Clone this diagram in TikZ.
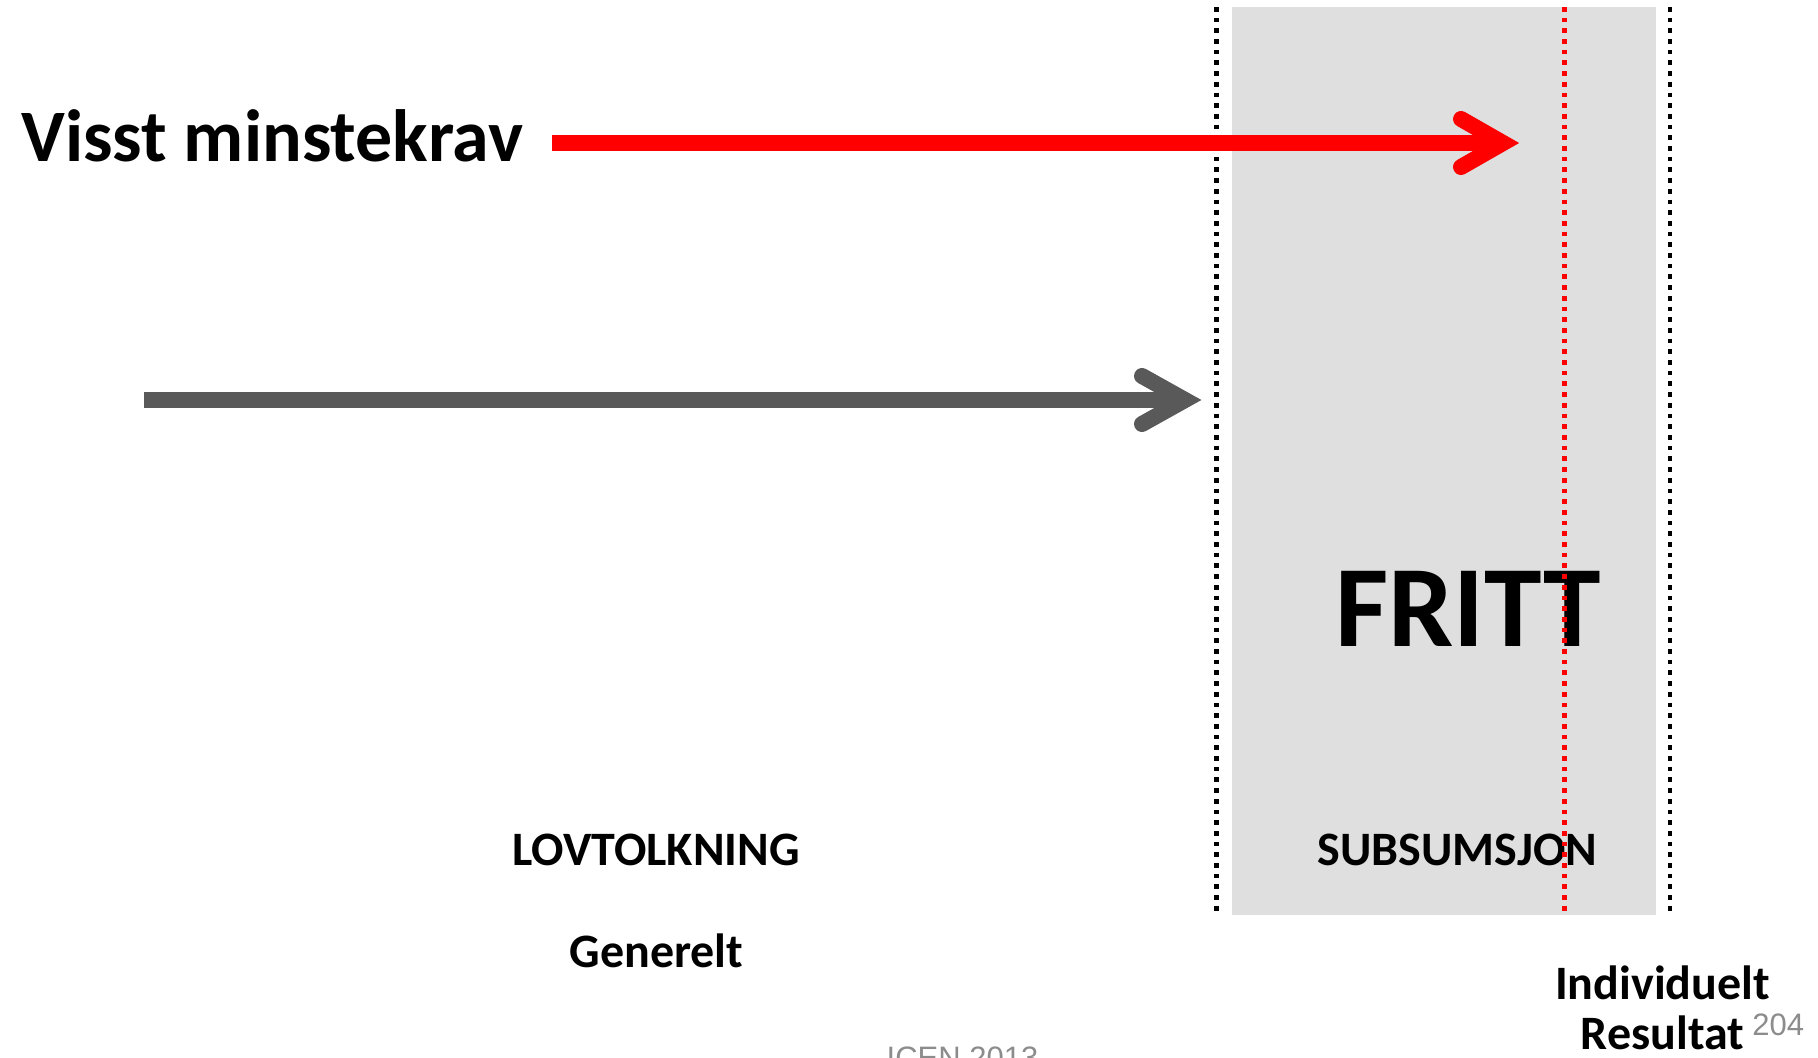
\documentclass[tikz,border=0pt]{standalone}
\usepackage{fontspec}
\setmainfont{Carlito}
\newfontfamily\arialfont{Liberation Sans}
\usetikzlibrary{calc}
\definecolor{boxgrey}{HTML}{DFDFDF}
\definecolor{arrowgrey}{HTML}{595959}
\definecolor{footgrey}{HTML}{8C8C8C}
\begin{document}
\begin{tikzpicture}[x=0.5pt,y=-0.5pt,
  lbl/.style={font=\bfseries\fontsize{24}{28}\selectfont, anchor=base, inner sep=0pt},
  dotline/.style={line width=2.35pt, dash pattern=on 2.35pt off 3pt},
  shaft/.style={line width=8pt, line cap=butt},
  head/.style={line width=8pt, line cap=round, line join=miter},
  foot/.style={font=\arialfont\fontsize{15.5}{18}\selectfont, text=footgrey, anchor=base, inner sep=0pt}]
\useasboundingbox (0,0) rectangle (1818,1058);
% shaded subsumption band
\fill[boxgrey] (1231.5,7) rectangle (1656,915);
% black dotted boundaries
\coordinate (lt) at (1216.5,7);
\coordinate (lb) at (1216.5,915);
\coordinate (rt) at (1670,7);
\coordinate (rb) at (1670,915);
\draw[dotline, black] (lt) -- (lb);
\draw[dotline, black] (rt) -- (rb);
% texts
\node[lbl, font=\bfseries\fontsize{37}{44}\selectfont, anchor=base west] (visst) at (21,162) {Visst minstekrav};
\node[lbl, font=\bfseries\fontsize{58}{68}\selectfont] (fritt) at (1468,646) {FRITT};
\node[lbl] (lovtolkning) at (656,865) {LOVTOLKNING};
\node[lbl] (subsumsjon) at (1457.5,865) {SUBSUMSJON};
\node[lbl] (generelt) at (656.5,967) {Generelt};
\node[lbl] (individuelt) at (1662.5,999) {Individuelt};
\node[lbl] (resultat) at (1662.5,1049) {Resultat};
\node[foot, anchor=base west] (pagenum) at (1752,1035) {204};
\node[foot] (footer) at (962.5,1068) {ICEN 2013};
% red dotted line
\coordinate (mt) at (1564.5,7);
\coordinate (mb) at (1564.5,915);
\draw[dotline, red] (mt) -- (mb);
% red arrow
\coordinate (rs) at (552,143);
\coordinate (re) at (1503,143);
\draw[shaft, red] (rs) -- (re);
\draw[head, red] ($(re)+(-42,-24)$) -- (re) -- ($(re)+(-42,24)$);
% grey arrow
\coordinate (gs) at (144,400);
\coordinate (ge) at (1185,400);
\draw[shaft, arrowgrey] (gs) -- (ge);
\draw[head, arrowgrey] ($(ge)+(-43,-24)$) -- (ge) -- ($(ge)+(-43,24)$);
\end{tikzpicture}
\end{document}
